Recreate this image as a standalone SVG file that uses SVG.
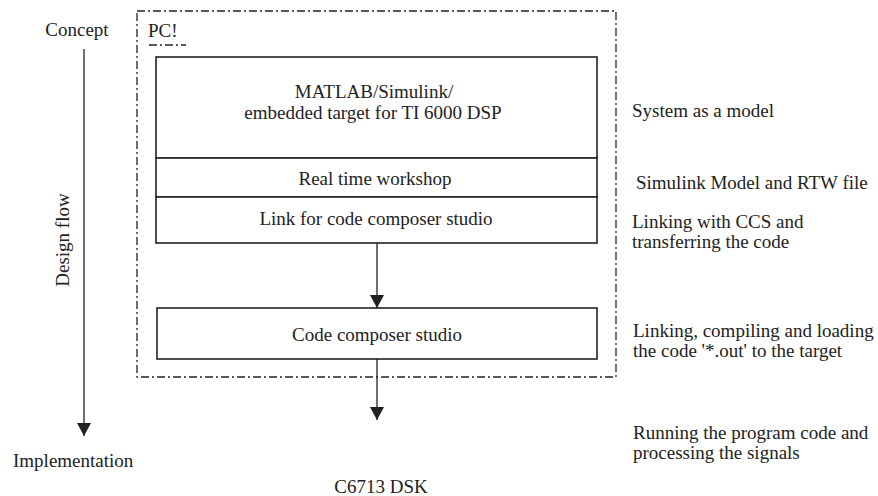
<svg xmlns="http://www.w3.org/2000/svg" width="878" height="496" viewBox="0 0 878 496">
<defs>
<marker id="ah" markerWidth="13" markerHeight="14" refX="13" refY="7" orient="auto" markerUnits="userSpaceOnUse" viewBox="0 0 13 14"><path d="M0,0 L13,7 L0,14 Z" fill="#222"/></marker>
<style>
text{font-size:19px;fill:#222}
.c{text-anchor:middle}
.box{fill:#fff;stroke:#222;stroke-width:1.6}
.dd{fill:none;stroke:#222;stroke-width:1.3;stroke-dasharray:8,3,2,3}
.ln{stroke:#222;stroke-width:1.3;fill:none}
</style>
</defs>
<rect width="878" height="496" fill="#fff"/>
<g font-family="'Liberation Serif', 'Times New Roman', 'DejaVu Serif', serif">
<g id="frame">
<rect class="dd" x="137" y="11" width="479" height="366"/>
<text x="148" y="37">PC!</text>
<line class="dd" x1="149" y1="45" x2="186" y2="45"/>
</g>
<g id="matlab"><rect class="box" x="156" y="57" width="441" height="101"/>
<text class="c" x="374" y="98">MATLAB/Simulink/</text>
<text class="c" x="373" y="119">embedded target for TI 6000 DSP</text></g>
<g id="rtw"><rect class="box" x="156" y="158" width="441" height="39"/>
<text class="c" x="375" y="185">Real time workshop</text></g>
<g id="link"><rect class="box" x="156" y="197" width="441" height="46"/>
<text class="c" x="376" y="225">Link for code composer studio</text></g>
<g id="ccs"><rect class="box" x="157" y="308" width="440" height="51"/>
<text class="c" x="377" y="341">Code composer studio</text></g>
<g id="connectors">
<line class="ln" x1="377" y1="243" x2="377" y2="308" marker-end="url(#ah)"/>
<line class="ln" x1="377" y1="359" x2="377" y2="420" marker-end="url(#ah)"/>
<line class="ln" x1="84" y1="49" x2="84" y2="436" marker-end="url(#ah)"/>
</g>
<g id="labels">
<text class="c" x="77" y="36">Concept</text>
<text class="c" transform="translate(69,240) rotate(-90)">Design flow</text>
<text x="13" y="467">Implementation</text>
<text class="c" x="381" y="493">C6713 DSK</text>
<text x="632" y="117">System as a model</text>
<text x="636" y="189">Simulink Model and RTW file</text>
<text x="632" y="228">Linking with CCS and</text>
<text x="632" y="248">transferring the code</text>
<text x="633" y="337">Linking, compiling and loading</text>
<text x="633" y="357">the code '*.out' to the target</text>
<text x="633" y="439">Running the program code and</text>
<text x="633" y="459">processing the signals</text>
</g>
</g>
</svg>
